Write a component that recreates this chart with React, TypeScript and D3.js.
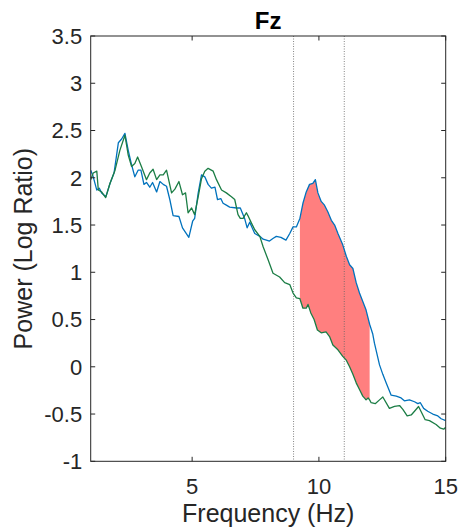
import React from 'react';
import * as d3 from 'd3';

const blueFreq = [1.0,1.1,1.24,1.34,1.43,1.6,1.76,1.92,2.09,2.22,2.35,2.48,2.61,2.74,2.87,2.98,3.1,3.2,3.33,3.44,3.6,3.73,3.86,3.99,4.12,4.25,4.48,4.62,4.87,5.02,5.1,5.24,5.37,5.5,5.63,5.76,5.9,6.0,6.13,6.22,6.35,6.48,6.75,6.9,7.07,7.17,7.27,7.47,7.67,7.8,7.93,8.05,8.2,8.32,8.5,8.7,8.85,8.98,9.11,9.25,9.37,9.5,9.63,9.76,9.86,9.96,10.09,10.22,10.35,10.49,10.62,10.75,10.94,11.08,11.21,11.34,11.47,11.6,11.73,11.86,12.0,12.12,12.19,12.39,12.52,12.65,12.85,13.05,13.24,13.37,13.57,13.77,13.9,14.0,14.13,14.29,14.49,14.69,14.82,15.0];
const blueVals = [2.08,2.01,1.87,1.89,1.84,1.80,1.94,2.05,2.37,2.41,2.47,2.29,2.14,2.01,2.08,2.08,1.93,1.95,1.90,1.95,1.85,1.96,1.93,1.91,1.77,1.60,1.59,1.47,1.37,1.54,1.57,1.84,2.03,2.01,1.93,1.89,1.90,1.77,1.78,1.73,1.71,1.69,1.68,1.68,1.57,1.47,1.53,1.41,1.38,1.35,1.34,1.33,1.36,1.38,1.37,1.34,1.41,1.48,1.48,1.57,1.73,1.85,1.93,1.94,1.98,1.84,1.75,1.71,1.64,1.55,1.50,1.41,1.29,1.17,1.08,1.04,0.89,0.78,0.69,0.60,0.45,0.35,0.25,0.02,-0.08,-0.17,-0.30,-0.31,-0.33,-0.36,-0.35,-0.37,-0.39,-0.38,-0.44,-0.47,-0.50,-0.52,-0.55,-0.57];

const greenFreq = [1.0,1.1,1.24,1.3,1.43,1.59,1.76,1.96,2.15,2.35,2.48,2.61,2.74,2.85,3.0,3.2,3.33,3.46,3.6,3.73,3.86,3.99,4.19,4.32,4.48,4.62,4.74,4.84,4.98,5.1,5.24,5.37,5.5,5.63,5.83,5.96,6.16,6.35,6.55,6.68,6.81,6.9,7.01,7.14,7.2,7.34,7.47,7.67,7.8,8.0,8.19,8.45,8.65,8.85,8.98,9.11,9.25,9.37,9.5,9.57,9.68,9.81,9.94,10.09,10.28,10.42,10.55,10.75,10.94,11.08,11.21,11.34,11.47,11.6,11.73,11.86,11.94,12.0,12.06,12.22,12.39,12.52,12.78,12.98,13.18,13.31,13.48,13.64,13.77,13.93,14.19,14.36,14.62,14.79,14.92,15.0];
const greenVals = [1.98,2.05,2.07,1.87,1.85,1.79,1.94,2.08,2.29,2.45,2.24,2.12,2.15,2.22,2.12,1.98,2.05,2.09,1.98,2.03,2.03,2.08,1.84,1.88,1.96,1.82,1.84,1.63,1.68,1.61,1.80,1.99,2.07,2.10,2.07,1.98,1.87,1.84,1.80,1.77,1.61,1.57,1.57,1.63,1.60,1.52,1.45,1.38,1.27,1.13,0.99,0.95,0.89,0.87,0.78,0.73,0.72,0.62,0.62,0.66,0.57,0.50,0.39,0.36,0.37,0.32,0.23,0.18,0.11,0.07,0.00,-0.08,-0.17,-0.24,-0.31,-0.35,-0.33,-0.35,-0.38,-0.39,-0.35,-0.32,-0.44,-0.42,-0.41,-0.45,-0.52,-0.51,-0.47,-0.42,-0.56,-0.57,-0.61,-0.65,-0.66,-0.64];

const xTicks = [5, 10, 15];
const yTicks = [-1, -0.5, 0, 0.5, 1, 1.5, 2, 2.5, 3, 3.5];
const bandLines = [9, 11];
const fillRange = [9.25, 12];
const title = 'Fz';
const xLabel = 'Frequency (Hz)';
const yLabel = 'Power (Log Ratio)';

const W = 460, H = 532;
const L = 90.7, R = 445.7, T = 36, B = 461.3;
const FONT = '"Liberation Sans", Arial, Helvetica, sans-serif';

export default function App() {
  const x = d3.scaleLinear().domain([1, 15]).range([L, R]);
  const y = d3.scaleLinear().domain([-1, 3.5]).range([B, T]);
  const blue = blueFreq.map((f, i) => [f, blueVals[i]] as [number, number]);
  const green = greenFreq.map((f, i) => [f, greenVals[i]] as [number, number]);
  const line = d3.line<[number, number]>().x(d => x(d[0])).y(d => y(d[1]));
  const inR = (d: [number, number]) => d[0] >= fillRange[0] - 1e-9 && d[0] <= fillRange[1] + 1e-9;
  const poly = [...blue.filter(inR), ...green.filter(inR).reverse()];
  const fillPath = line(poly) + 'Z';
  const axisColor = '#262626';
  const tl = 4.5;
  return (
    <svg width={W} height={H} style={{ position: 'absolute', left: 0, top: 0, background: '#fff' }}>
      <rect x={0} y={0} width={W} height={H} fill="#fff" />
      <defs>
        <clipPath id="plotclip"><rect x={L} y={T} width={R - L} height={B - T} /></clipPath>
      </defs>
      <g clipPath="url(#plotclip)">
        <path d={fillPath} fill="#ff7f7f" stroke="none" />
        {bandLines.map(b => (
          <line key={b} x1={x(b)} x2={x(b)} y1={T} y2={B} stroke="#666" strokeWidth={0.8} strokeDasharray="1 1.5" />
        ))}
        <path d={line(blue) || ''} fill="none" stroke="#0072BD" strokeWidth={1.3} strokeLinejoin="round" />
        <path d={line(green) || ''} fill="none" stroke="#1b7d45" strokeWidth={1.3} strokeLinejoin="round" />
      </g>
      <rect x={L} y={T} width={R - L} height={B - T} fill="none" stroke={axisColor} strokeWidth={1} />
      {yTicks.map(t => (
        <g key={t}>
          <line x1={L} x2={L + tl} y1={y(t)} y2={y(t)} stroke={axisColor} />
          <line x1={R} x2={R - tl} y1={y(t)} y2={y(t)} stroke={axisColor} />
          <text x={L - 8.5} y={y(t)} dy="0.36em" textAnchor="end" fontFamily={FONT} fontSize={22} fill="#262626">{t}</text>
        </g>
      ))}
      {xTicks.map(t => (
        <g key={t}>
          <line x1={x(t)} x2={x(t)} y1={B} y2={B - tl} stroke={axisColor} />
          <line x1={x(t)} x2={x(t)} y1={T} y2={T + tl} stroke={axisColor} />
          <text x={x(t)} y={494} textAnchor="middle" fontFamily={FONT} fontSize={22} fill="#262626">{t}</text>
        </g>
      ))}
      <text x={(L + R) / 2} y={29} textAnchor="middle" fontFamily={FONT} fontSize={24} fontWeight="bold" fill="#000">{title}</text>
      <text x={(L + R) / 2} y={522} textAnchor="middle" fontFamily={FONT} fontSize={25} fill="#262626">{xLabel}</text>
      <text transform={`translate(32,${(T + B) / 2}) rotate(-90)`} textAnchor="middle" fontFamily={FONT} fontSize={25} fill="#262626">{yLabel}</text>
    </svg>
  );
}
